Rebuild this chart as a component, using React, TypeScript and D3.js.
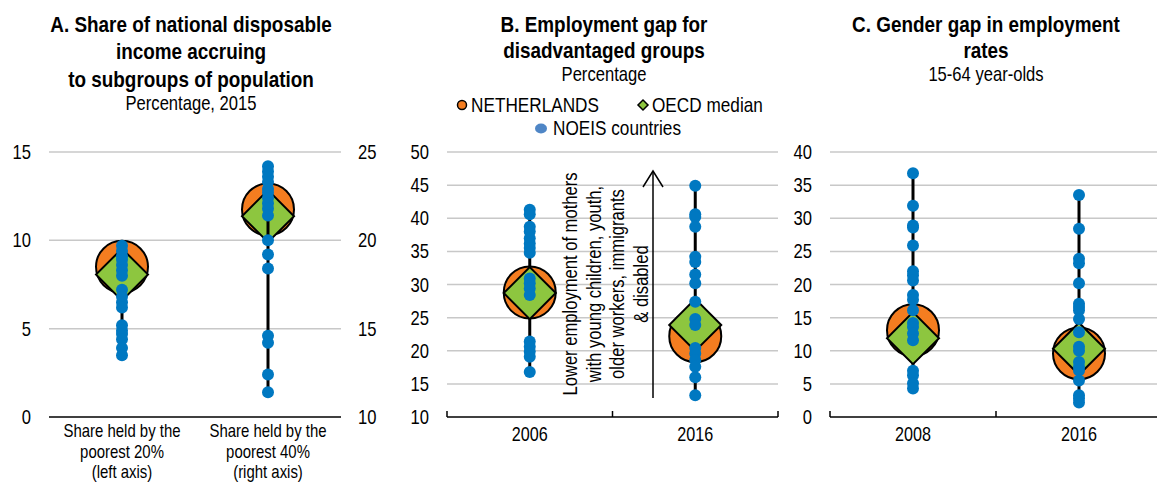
import React, { useEffect, useRef } from 'react';
import * as d3 from 'd3';

// Panel A: share of national disposable income
const incomeCategories = [
  ['Share held by the', 'poorest 20%', '(left axis)'],
  ['Share held by the', 'poorest 40%', '(right axis)'],
];
const incomePoorest20 = [9.7, 9.4, 9.1, 8.9, 8.6, 8.3, 8.0, 7.2, 6.8, 6.5, 6.2, 5.2, 4.9, 4.7, 4.4, 3.9, 3.5];
const incomePoorest40 = [24.2, 23.9, 23.6, 23.3, 22.9, 22.7, 22.4, 22.1, 21.8, 21.4, 20.0, 19.2, 18.4, 14.6, 14.2, 12.4, 11.4];
const incomeNetherlands = [8.5, 21.75];
const incomeOecd = [8.06, 21.37];
const incomeLeftTicks = [0, 5, 10, 15];
const incomeRightTicks = [10, 15, 20, 25];

// Panel B: employment gap for disadvantaged groups
const employmentYears = ['2006', '2016'];
const employmentGap2006 = [41.3, 40.6, 38.7, 38.0, 37.0, 36.2, 35.5, 34.8, 30.9, 30.2, 29.4, 28.4, 21.4, 20.6, 19.9, 19.1, 16.8];
const employmentGap2016 = [44.9, 40.6, 40.2, 38.7, 34.2, 33.4, 31.5, 30.2, 27.4, 24.8, 23.9, 20.4, 19.6, 18.6, 17.6, 16.0, 13.3];
const employmentNetherlands = [28.8, 22.2];
const employmentOecd = [28.7, 23.9];
const employmentTicks = [10, 15, 20, 25, 30, 35, 40, 45, 50];

// Panel C: gender gap in employment rates
const genderYears = ['2008', '2016'];
const genderGap2008 = [36.8, 31.9, 28.9, 28.6, 25.9, 22.0, 21.4, 20.6, 18.4, 17.7, 16.1, 14.2, 13.6, 12.6, 11.6, 7.0, 6.3, 5.1, 4.3];
const genderGap2016 = [33.5, 28.4, 23.9, 23.2, 20.2, 17.1, 16.6, 16.1, 14.8, 12.8, 10.6, 10.0, 8.3, 7.6, 7.0, 5.5, 3.3, 2.8, 2.2];
const genderNetherlands = [13.1, 9.6];
const genderOecd = [11.9, 10.3];
const genderTicks = [0, 5, 10, 15, 20, 25, 30, 35, 40];

const legendLabels = ['NETHERLANDS', 'OECD median', 'NOEIS countries'];

const FONT = "'Liberation Sans', Arial, sans-serif";
// no Arial Narrow available, squeeze Liberation Sans instead
const NARROW = 0.83;
const NARROW_BOLD = 0.86;
const ORANGE = '#F47D20';
const GREEN = '#8DC63F';
const BLUE = '#0078C1';
const GRID = '#C8C8C8';

const TOP = 152;
const BOTTOM = 417;

type Sel = d3.Selection<SVGGElement, unknown, null, undefined>;

// narrow text helper
const label = (
  parent: Sel, x: number, y: number, txt: string, size: number,
  anchor = 'middle', bold = false, rotate = 0, dy = '0', squeeze = 0,
) => parent.append('text')
  .attr('transform', `translate(${x},${y})${rotate ? ` rotate(${rotate})` : ''} scale(${squeeze || (bold ? NARROW_BOLD : NARROW)},1)`)
  .attr('text-anchor', anchor)
  .attr('dy', dy)
  .attr('font-size', size)
  .attr('font-weight', bold ? 'bold' : 'normal')
  .attr('fill', '#000')
  .text(txt);

interface Panel {
  x0: number;
  x1: number;
  labels: string[][];
  scales: d3.ScaleLinear<number, number>[];
  leftTicks: number[];
  dots: number[][];
  nl: number[];
  oecd: number[];
  tickMarks: boolean;
  lineOnTop: boolean[];
  title: string[];
  subtitle: string;
  titleX: number;
  titleY: number[];
  subY: number;
}

const App: React.FC = () => {
  const svgRef = useRef<SVGSVGElement | null>(null);

  useEffect(() => {
    const svg = d3.select(svgRef.current);
    svg.selectAll('*').remove();
    svg.attr('width', 1157).attr('height', 488).style('font-family', FONT);
    const root = svg.append('g') as unknown as Sel;

    const yIncomeLeft = d3.scaleLinear().domain([0, 15]).range([BOTTOM, TOP]);
    const yIncomeRight = d3.scaleLinear().domain([10, 25]).range([BOTTOM, TOP]);
    const yEmployment = d3.scaleLinear().domain([10, 50]).range([BOTTOM, TOP]);
    const yGender = d3.scaleLinear().domain([0, 40]).range([BOTTOM, TOP]);

    const panels: Panel[] = [
      {
        x0: 49, x1: 341, labels: incomeCategories,
        scales: [yIncomeLeft, yIncomeRight], leftTicks: incomeLeftTicks,
        dots: [incomePoorest20, incomePoorest40], nl: incomeNetherlands, oecd: incomeOecd,
        tickMarks: false, lineOnTop: [false, true],
        title: ['A. Share of national disposable', 'income accruing', 'to subgroups of population'],
        subtitle: 'Percentage, 2015', titleX: 191, titleY: [32, 59, 87], subY: 110,
      },
      {
        x0: 447, x1: 778, labels: employmentYears.map((d) => [d]),
        scales: [yEmployment, yEmployment], leftTicks: employmentTicks,
        dots: [employmentGap2006, employmentGap2016], nl: employmentNetherlands, oecd: employmentOecd,
        tickMarks: true, lineOnTop: [false, false],
        title: ['B. Employment gap for', 'disadvantaged groups'],
        subtitle: 'Percentage', titleX: 604, titleY: [32, 58], subY: 81,
      },
      {
        x0: 830, x1: 1162, labels: genderYears.map((d) => [d]),
        scales: [yGender, yGender], leftTicks: genderTicks,
        dots: [genderGap2008, genderGap2016], nl: genderNetherlands, oecd: genderOecd,
        tickMarks: true, lineOnTop: [false, false],
        title: ['C. Gender gap in employment', 'rates'],
        subtitle: '15-64 year-olds', titleX: 986, titleY: [32, 58], subY: 81,
      },
    ];

    const bigSize = 52 * 52 / 2; // square area for a diamond with half-diagonal 26

    panels.forEach((p, pi) => {
      const g = root.append('g') as unknown as Sel;
      const x = d3.scaleBand<number>().domain(p.labels.map((_, i) => i)).range([p.x0, p.x1]);
      const bw = x.bandwidth();
      const yl = p.scales[0];

      // titles
      p.title.forEach((t, i) => label(g, p.titleX, p.titleY[i], t, 22, 'middle', true));
      label(g, p.titleX, p.subY, p.subtitle, 20);

      // gridlines (bottom one is the axis)
      g.selectAll('.grid').data(p.leftTicks.slice(1)).join('line')
        .attr('x1', p.x0).attr('x2', p.x1)
        .attr('y1', (d) => yl(d)).attr('y2', (d) => yl(d))
        .attr('stroke', GRID).attr('stroke-width', 1.5);

      // tick labels
      p.leftTicks.forEach((t) => label(g, p.x0 - 18, yl(t), String(t), 20, 'end', false, 0, '0.35em'));
      if (pi === 0) {
        incomeRightTicks.forEach((t) => label(g, p.x1 + 17, p.scales[1](t), String(t), 20, 'start', false, 0, '0.35em'));
      }

      // x axis
      g.append('line').attr('x1', p.x0).attr('x2', p.x1).attr('y1', BOTTOM).attr('y2', BOTTOM)
        .attr('stroke', '#000').attr('stroke-width', 1.5);
      if (p.tickMarks) {
        const bounds = p.labels.map((_, i) => x(i)!).concat([p.x1]);
        g.selectAll('.xtick').data(bounds).join('line')
          .attr('x1', (d) => d).attr('x2', (d) => d).attr('y1', BOTTOM).attr('y2', BOTTOM - 6)
          .attr('stroke', '#000').attr('stroke-width', 1.5);
      }

      // category labels
      p.labels.forEach((lines, i) => {
        const cx = x(i)! + bw / 2;
        const multi = lines.length > 1;
        lines.forEach((l, j) => label(g, cx, multi ? 437 + j * 20.5 : 441, l, multi ? 18 : 19.5));
      });

      // marks
      p.dots.forEach((vals, i) => {
        const y = p.scales[i];
        const cx = x(i)! + bw / 2;
        const [lo, hi] = d3.extent(vals) as [number, number];
        const cat = g.append('g');
        const drawLine = () => cat.append('line').attr('x1', cx).attr('x2', cx)
          .attr('y1', y(lo)).attr('y2', y(hi)).attr('stroke', '#000').attr('stroke-width', 3);
        if (!p.lineOnTop[i]) drawLine();
        cat.append('circle').attr('cx', cx).attr('cy', y(p.nl[i])).attr('r', 26)
          .attr('fill', ORANGE).attr('stroke', '#000').attr('stroke-width', 2);
        cat.append('path').attr('d', d3.symbol(d3.symbolSquare, bigSize)())
          .attr('transform', `translate(${cx},${y(p.oecd[i])}) rotate(45)`)
          .attr('fill', GREEN).attr('stroke', '#000').attr('stroke-width', 2);
        if (p.lineOnTop[i]) drawLine();
        cat.selectAll('.dot').data(vals).join('circle')
          .attr('cx', cx).attr('cy', (d) => y(d)).attr('r', 6).attr('fill', BLUE);
      });
    });

    // legend (panel B)
    const lg = root.append('g') as unknown as Sel;
    lg.append('circle').attr('cx', 462).attr('cy', 105).attr('r', 4.5)
      .attr('fill', ORANGE).attr('stroke', '#000').attr('stroke-width', 1.5);
    label(lg, 471, 111.5, legendLabels[0], 20, 'start', false, 0, '0', 0.86);
    lg.append('path').attr('d', d3.symbol(d3.symbolSquare, 50)())
      .attr('transform', 'translate(643,105) rotate(45)')
      .attr('fill', GREEN).attr('stroke', '#000').attr('stroke-width', 1.5);
    label(lg, 652, 111.5, legendLabels[1], 20, 'start', false, 0, '0', 0.86);
    lg.append('ellipse').attr('cx', 541).attr('cy', 128.5).attr('rx', 6).attr('ry', 5).attr('fill', '#4F86C6');
    label(lg, 553, 134.5, legendLabels[2], 20, 'start', false, 0, '0', 0.86);

    // annotation arrow (panel B)
    const note = ['Lower employment of mothers', 'with young children, youth,', 'older workers, immigrants', '& disabled'];
    const ng = root.append('g') as unknown as Sel;
    note.forEach((t, i) => label(ng, 577 + i * 23.5, 284, t, 20, 'middle', false, -90));
    ng.append('line').attr('x1', 653).attr('x2', 653).attr('y1', 398).attr('y2', 171)
      .attr('stroke', '#000').attr('stroke-width', 1.5);
    ng.append('polyline').attr('points', '643,187 653,171 663,187')
      .attr('fill', 'none').attr('stroke', '#000').attr('stroke-width', 1.5);
  }, []);

  return <svg ref={svgRef} style={{ position: 'absolute', left: 0, top: 0, background: '#fff' }} />;
};

export default App;
